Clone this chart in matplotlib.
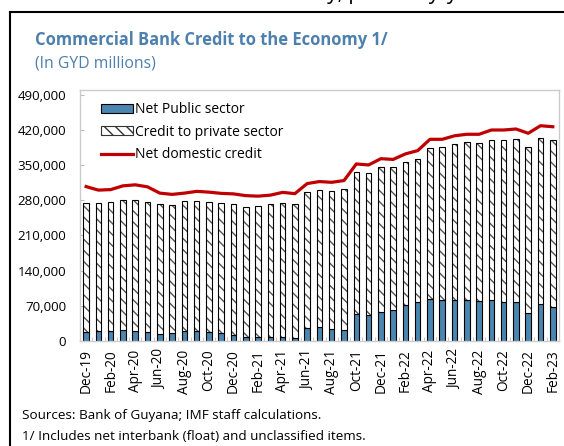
import numpy as np
import matplotlib.pyplot as plt
from matplotlib.lines import Line2D
from matplotlib.patches import Patch
from matplotlib.ticker import FuncFormatter, MultipleLocator

plt.rcParams['font.family'] = ['Open Sans', 'DejaVu Sans']

months = ['Dec-19', 'Jan-20', 'Feb-20', 'Mar-20', 'Apr-20', 'May-20', 'Jun-20',
          'Jul-20', 'Aug-20', 'Sep-20', 'Oct-20', 'Nov-20', 'Dec-20', 'Jan-21',
          'Feb-21', 'Mar-21', 'Apr-21', 'May-21', 'Jun-21', 'Jul-21', 'Aug-21',
          'Sep-21', 'Oct-21', 'Nov-21', 'Dec-21', 'Jan-22', 'Feb-22', 'Mar-22',
          'Apr-22', 'May-22', 'Jun-22', 'Jul-22', 'Aug-22', 'Sep-22', 'Oct-22',
          'Nov-22', 'Dec-22', 'Jan-23', 'Feb-23']

# GYD millions
public_sector = [18500, 20000, 20000, 21000, 20000, 18500, 14000, 15000, 20000,
                 20000, 17500, 15000, 11000, 7500, 7500, 7500, 7500, 5500,
                 25000, 27000, 24500, 21000, 54000, 51000, 58000, 62000, 72000,
                 77000, 84000, 81000, 82000, 82000, 80000, 81000, 77000, 77000,
                 56000, 73000, 68000]
total_credit = [274000, 274000, 277000, 281000, 280000, 276000, 271500, 271000,
                279000, 279000, 277000, 274000, 271500, 266500, 267500, 271500,
                275000, 273000, 295500, 301000, 298000, 301500, 336000, 334000,
                346000, 345500, 355000, 362500, 383000, 386000, 392000, 395000,
                394000, 400000, 399000, 402000, 385000, 403000, 400000]
net_domestic = [307000, 300000, 301000, 308500, 310500, 306500, 294000, 291500,
                294000, 297500, 296000, 293500, 292500, 289000, 288000, 290000,
                295500, 293000, 313000, 317000, 315500, 319000, 352000, 350000,
                362500, 361000, 372000, 378500, 401000, 401000, 408000, 411000,
                411000, 419500, 419500, 421500, 413000, 428000, 426000]

private_sector = np.array(total_credit) - np.array(public_sector)

blue = '#4a86b0'
title_blue = '#4d80ad'
red = '#c00000'
hatch_grey = '#555555'

fig = plt.figure(figsize=(5.64, 4.46), dpi=100)
ax = fig.add_axes([0.1418, 0.2354, 0.8492, 0.5639])

x = np.arange(len(months))
w = 0.45
ax.bar(x, public_sector, width=w, color=blue, edgecolor='black', linewidth=0.8,
       zorder=2)
ax.bar(x, private_sector, width=w, bottom=public_sector, color='white',
       edgecolor=hatch_grey, hatch='\\\\\\', linewidth=0, zorder=2)
ax.bar(x, private_sector, width=w, bottom=public_sector, fill=False,
       edgecolor='black', linewidth=0.8, zorder=3)
ax.plot(x, net_domestic, color=red, linewidth=2.3, zorder=4)

ax.set_xlim(-0.5, len(months) - 0.5)
ax.set_ylim(0, 500000)
ax.set_yticks(np.arange(0, 490001, 70000))
ax.yaxis.set_major_formatter(FuncFormatter(lambda v, p: f'{int(v):,}'))
ax.set_xticks(x[::2])
ax.set_xticklabels(months[::2], rotation=90)
ax.xaxis.set_minor_locator(MultipleLocator(1, offset=0.5))

ax.tick_params(axis='x', which='major', length=0, pad=6, labelsize=9.8)
ax.tick_params(axis='x', which='minor', direction='in', length=3,
               color='#bbbbbb')
ax.tick_params(axis='y', direction='in', length=3, color='#bbbbbb',
               labelsize=9.6, pad=10)
for sp in ax.spines.values():
    sp.set_color('#cccccc')
    sp.set_linewidth(1)

handles = [Patch(facecolor=blue, edgecolor='black', linewidth=0.8),
           Patch(facecolor='white', edgecolor='#333333', hatch='\\\\\\',
                 linewidth=0.8),
           Line2D([], [], color=red, linewidth=2.3)]
labels = ['Net Public sector', 'Credit to private sector',
          'Net domestic credit']
ax.legend(handles, labels, loc='upper left', bbox_to_anchor=(0.032, 0.972),
          frameon=False, fontsize=10, handlelength=2.3, handleheight=0.6,
          handletextpad=0.15, labelspacing=0.55, borderaxespad=0)

fig.text(35 / 564, 1 - 40 / 446, 'Commercial Bank Credit to the Economy 1/',
         fontsize=11.9, fontweight='bold', color=title_blue, va='center')
fig.text(35 / 564, 1 - 64 / 446, '(In GYD millions)', fontsize=11.3,
         color=title_blue, va='center')
fig.text(22 / 564, 1 - 415 / 446,
         'Sources: Bank of Guyana; IMF staff calculations.', fontsize=9.7,
         va='center')
fig.text(22 / 564, 1 - 437 / 446,
         '1/ Includes net interbank (float) and unclassified items.',
         fontsize=9.7, va='center')

# tail of the heading above this panel, clipped by the page edge
fig.text(268 / 564, 1 + 1 / 446, 'Activity, percent y/y', fontsize=15,
         va='baseline', ha='left')

# panel frame
fig.add_artist(Line2D([10 / 564, 1], [1 - 12 / 446, 1 - 12 / 446],
                      transform=fig.transFigure, color='black', linewidth=1.5))
fig.add_artist(Line2D([10 / 564, 10 / 564], [0, 1 - 12 / 446],
                      transform=fig.transFigure, color='black', linewidth=1.5))

fig.savefig('out.png', dpi=100)
